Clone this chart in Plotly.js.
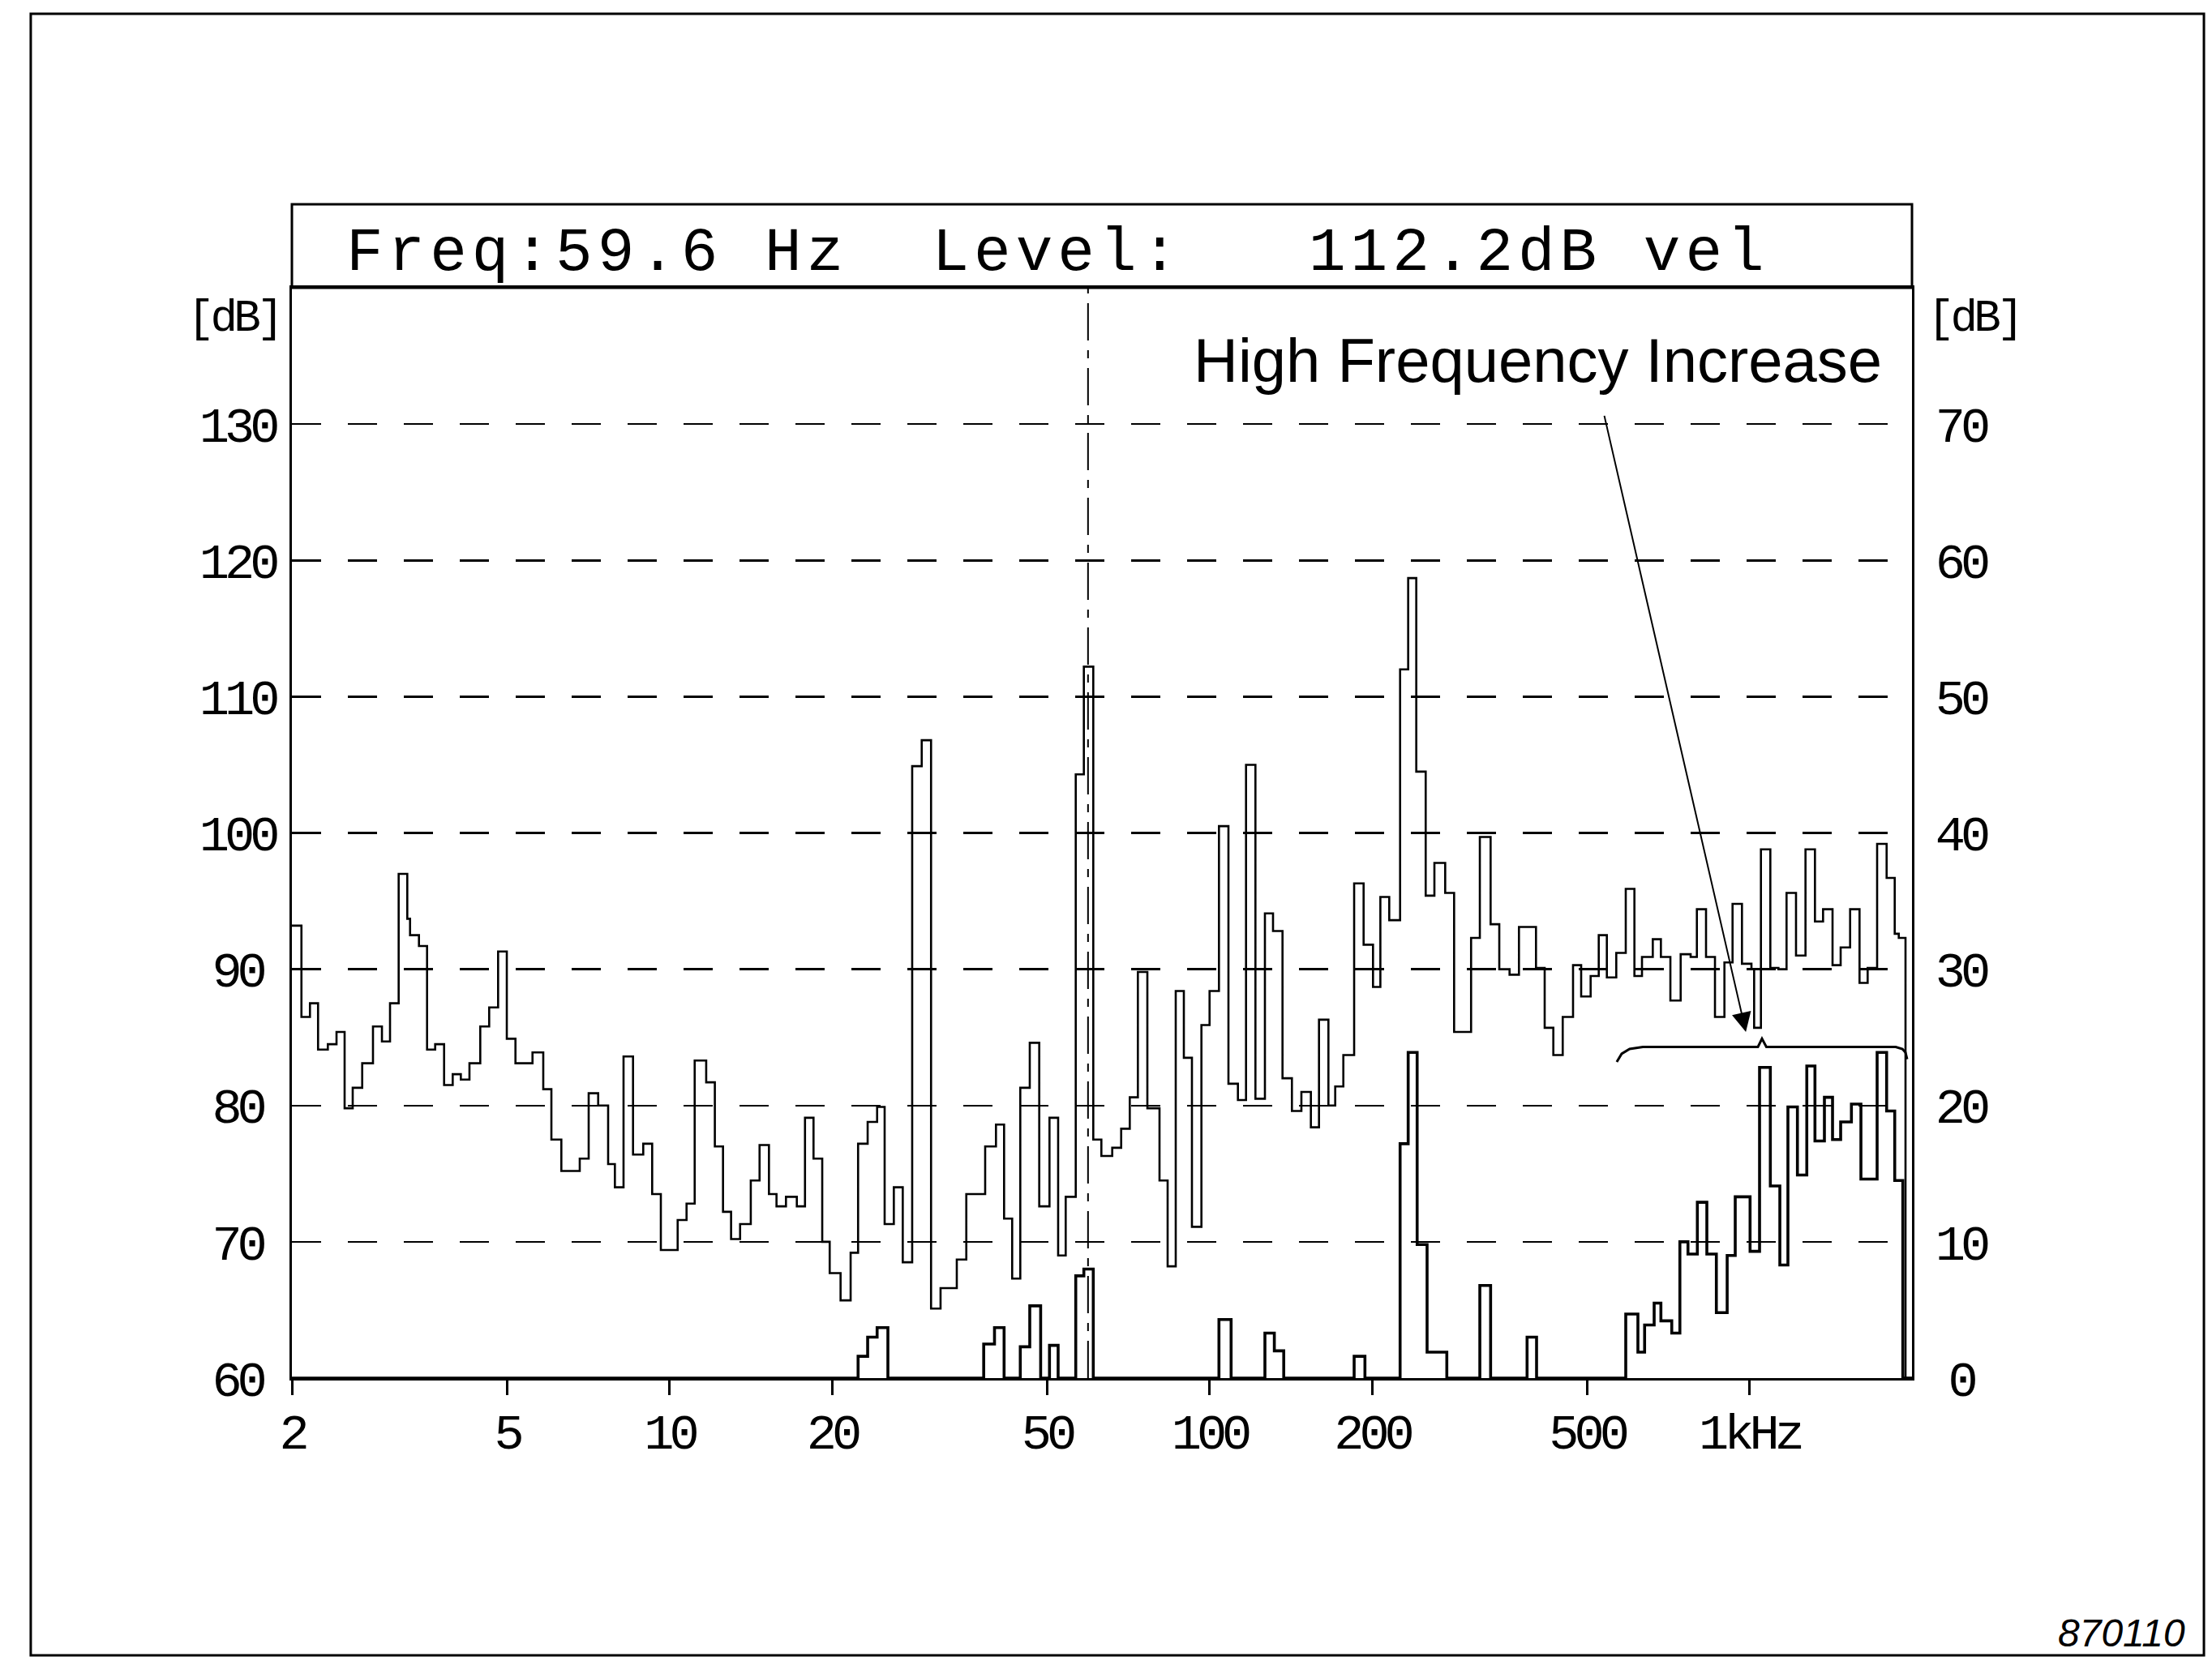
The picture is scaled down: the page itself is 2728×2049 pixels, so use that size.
<!DOCTYPE html>
<html>
<head>
<meta charset="utf-8">
<script src="https://cdn.plot.ly/plotly-3.0.1.min.js"></script>
<style>
html, body { margin: 0; padding: 0; background: #ffffff; }
#chart { width: 2728px; height: 2049px; }
.ytick text, .y2tick text { text-anchor: middle !important; letter-spacing: -6px; }
.xtick text { letter-spacing: -6px; }
.annotation[data-index="0"] text { letter-spacing: 6px; }
.annotation[data-index="1"] text, .annotation[data-index="2"] text { letter-spacing: -5px; }
</style>
</head>
<body>
<div id="chart"></div>
<script>
// Upper spectrum: left edge frequency of each band [Hz] and level [dB] (left axis)
const freqUpper = [2.0, 2.083, 2.16, 2.236, 2.331, 2.419, 2.504, 2.592, 2.699, 2.826,
  2.936, 3.039, 3.153, 3.271, 3.31, 3.438, 3.559, 3.684, 3.827, 3.97,
  4.11, 4.264, 4.465, 4.638, 4.818, 5.0, 5.188, 5.579, 5.841, 6.047, 6.309,
  6.824, 7.089, 7.382, 7.702, 7.927, 8.225, 8.565, 8.946, 9.293, 9.643,
  10.36, 10.76, 11.14, 11.70, 12.14, 12.57, 13.01, 13.52, 14.15, 14.69,
  15.29, 15.79, 16.44, 17.22, 17.83, 18.49, 19.19, 19.81,
  20.75, 21.66, 22.36, 23.29, 24.25, 25.04, 26.04, 27.05, 28.16, 29.33,
  30.52, 31.78, 34.06, 35.47, 38.44, 40.25, 41.67, 43.13, 44.65, 46.49,
  48.41, 50.57, 52.47, 54.19, 56.56, 58.55, 60.95,
  63.09, 66.08, 68.65, 71.21, 73.71, 76.76, 80.84, 83.69, 86.63, 89.68,
  92.83, 96.66, 100.07, 104.16, 108.46, 112.93, 116.91, 121.69, 126.71, 131.17,
  136.58, 142.17, 148.03, 154.14, 159.57, 166.11, 171.0, 177.03, 185.37, 193.0, 200.9,
  207.3, 215.3, 225.5, 233.4, 241.6, 251.5, 261.0, 273.3, 283.9, 305.2,
  316.8, 331.7, 344.2, 359.6, 374.3, 402.5, 417.7, 433.4, 451.1, 471.4,
  488.0, 508.1, 526.0, 544.5, 566.8, 590.2, 612.4, 632.5,
  662.3, 685.6, 713.9, 745.9, 778.3, 799.3, 831.1, 863.4, 898.9, 930.6,
  968.7, 1008.7, 1020.3, 1050.3, 1093.3, 1131.8, 1171.5, 1219.8, 1270.1, 1322.4,
  1368.9, 1425.3, 1475.5, 1536.3, 1599.2, 1655.5, 1723.8, 1795.0, 1858.1, 1890.5,
  1945.5, 2000];
const levelUpper = [93.2, 86.5, 87.5, 84.1, 84.5, 85.4, 79.8, 81.3, 83.1, 85.8,
  84.7, 87.5, 97.0, 93.7, 92.5, 91.7, 84.1, 84.5, 81.5, 82.3,
  81.9, 83.1, 85.8, 87.2, 91.3, 84.9, 83.1, 83.9, 81.2, 77.5, 75.2,
  76.1, 80.9, 80.0, 75.7, 74.0, 83.6, 76.4, 77.2, 73.5, 69.4,
  71.6, 72.8, 83.3, 81.7, 77.0, 72.2, 70.2, 71.3, 74.5, 77.1,
  73.5, 72.6, 73.3, 72.6, 79.1, 76.1, 70.0, 67.7,
  65.7, 69.2, 77.2, 78.8, 79.9, 71.3, 74.0, 68.5, 104.9, 106.8,
  65.1, 66.6, 68.7, 73.5, 77.0, 78.6, 71.7, 67.3, 81.3, 84.6,
  72.6, 79.1, 69.0, 73.3, 104.3, 112.2, 77.5,
  76.3, 76.9, 78.3, 80.6, 89.8, 79.8, 74.5, 68.2, 88.4, 83.5,
  71.1, 85.9, 88.4, 100.5, 81.6, 80.4, 105.0, 80.5, 94.1, 92.8,
  82.0, 79.6, 81.0, 78.4, 86.3, 80.0, 81.4, 83.7, 96.3, 91.8, 88.7,
  95.3, 93.6, 112.0, 118.7, 104.5, 95.4, 97.8, 95.6, 85.4, 92.3,
  99.7, 93.3, 90.0, 89.6, 93.1, 90.1, 85.7, 83.7, 86.5, 90.3,
  88.0, 89.5, 92.5, 89.4, 91.2, 95.9, 89.5, 90.9,
  92.2, 90.9, 87.7, 91.1, 90.9, 94.4, 90.9, 86.5, 90.5, 94.8,
  90.4, 90.0, 85.7, 98.8, 90.1, 90.0, 95.6, 91.0, 98.8, 93.5,
  94.4, 90.3, 91.6, 94.4, 89.0, 90.1, 99.2, 96.7, 92.6, 92.3,
  60.0, 60.0];

// Lower trace: left edge frequency [Hz] and level [dB] (right axis)
const freqLower = [2, 22.36, 23.29, 24.25, 25.39, 38.2, 40.0, 41.67, 44.65, 46.49,
  48.7, 50.57, 52.47, 56.56, 58.55, 60.95, 104.16, 109.7, 126.71, 131.9,
  137.3, 185.37, 194.1, 225.5, 233.4, 242.5, 253.0, 275.2, 316.8, 331.7,
  387.5, 403.5, 590.2, 621.6, 639.6, 666.2, 685.6, 718.1, 743.4, 769.5,
  800.9, 834.0, 868.5, 909.5, 941.3, 1002.8, 1044.2, 1093.3, 1138.5, 1178.4,
  1227.1, 1277.2, 1322.4, 1376.8, 1425.3, 1475.5, 1544.8, 1608.7, 1723.8, 1795.0,
  1858.1, 1923.4, 2000];
const levelLower = [0, 1.6, 3.0, 3.7, 0, 2.5, 3.7, 0, 2.3, 5.3,
  0, 2.4, 0, 7.5, 8.0, 0, 4.3, 0, 3.3, 2.0,
  0, 1.6, 0, 17.2, 23.9, 9.8, 1.9, 0, 6.8, 0,
  3.0, 0, 4.7, 1.9, 3.9, 5.5, 4.2, 3.3, 10.0, 9.1,
  12.9, 9.1, 4.8, 9.0, 13.3, 9.3, 22.8, 14.1, 8.3, 19.9,
  14.9, 22.9, 17.4, 20.6, 17.5, 18.8, 20.1, 14.6, 23.9, 19.6,
  14.5, 0, 0];

const xTickVals = [2, 5, 10, 20, 50, 100, 200, 500, 1000];
const xTickText = ['2', '5', '10', '20', '50', '100', '200', '500', '1kHz'];
const yLeftTicks = [60, 70, 80, 90, 100, 110, 120, 130];
const yRightTicks = [0, 10, 20, 30, 40, 50, 60, 70];
const xRange = [2, 2000];
const yLeftRange = [60, 140];
const yRightRange = [0, 80];

const cursorFreq = 59.6;
const cursorLevel = 112.2;
const headerText = 'Freq:' + cursorFreq.toFixed(1) + ' Hz\u00a0\u00a0Level:\u00a0\u00a0\u00a0' + cursorLevel.toFixed(1) + 'dB vel';

// brace over the high-frequency region and its arrow
const braceFreq = [568, 580, 600, 635, 1037, 1055, 1075, 1866, 1920, 1945, 1959];
const braceLevel = [83.2, 83.8, 84.15, 84.3, 84.3, 84.9, 84.3, 84.3, 84.15, 83.9, 83.4];
const arrowTip = [985, 85.4];
const arrowTail = [538, 130.7];

const black = '#000000';
const monoFont = 'Liberation Mono, DejaVu Sans Mono, monospace';

const bracePath = braceFreq.map((f, i) => (i === 0 ? 'M' : 'L') + f + ',' + braceLevel[i]).join(' ');

const traces = [
  {
    x: freqUpper, y: levelUpper, type: 'scatter', mode: 'lines',
    line: { shape: 'hv', color: black, width: 2.6 },
    xaxis: 'x', yaxis: 'y', hoverinfo: 'skip', showlegend: false
  },
  {
    x: freqLower, y: levelLower, type: 'scatter', mode: 'lines',
    line: { shape: 'hv', color: black, width: 3.6 },
    xaxis: 'x', yaxis: 'y2', hoverinfo: 'skip', showlegend: false
  }
];

const layout = {
  width: 2728, height: 2049,
  margin: { l: 360, r: 370, t: 355, b: 349, pad: 0 },
  paper_bgcolor: '#ffffff', plot_bgcolor: '#ffffff',
  showlegend: false,
  xaxis: {
    type: 'log', range: [Math.log10(xRange[0]), Math.log10(xRange[1])],
    tickmode: 'array', tickvals: xTickVals, ticktext: xTickText,
    showgrid: false, zeroline: false,
    showline: true, linecolor: black, linewidth: 3, mirror: true,
    ticks: 'outside', ticklen: 18, tickwidth: 3, tickcolor: black,
    ticklabelstandoff: -8,
    tickfont: { family: monoFont, size: 62, color: black }
  },
  yaxis: {
    range: yLeftRange, tickmode: 'array', tickvals: yLeftTicks,
    ticktext: yLeftTicks.map(String),
    showgrid: true, gridcolor: black, gridwidth: 2.5, griddash: '36px,33px',
    zeroline: false, showline: true, linecolor: black, linewidth: 3, mirror: true,
    ticks: '', ticklabelstandoff: 52,
    tickfont: { family: monoFont, size: 62, color: black }
  },
  yaxis2: {
    range: yRightRange, overlaying: 'y', side: 'right', tickmode: 'array',
    tickvals: yRightTicks, ticktext: yRightTicks.map(String),
    showgrid: false, zeroline: false, showline: false, ticks: '',
    ticklabelstandoff: 59,
    tickfont: { family: monoFont, size: 62, color: black }
  },
  shapes: [
    // outer frame
    { type: 'rect', xref: 'paper', yref: 'paper', x0: -0.1612, x1: 1.1802, y0: -0.2543, y1: 1.2513,
      line: { color: black, width: 3 }, fillcolor: 'rgba(0,0,0,0)', layer: 'above' },
    // header box
    { type: 'rect', xref: 'paper', yref: 'paper', x0: 0, x1: 1, y0: 1, y1: 1.0766,
      line: { color: black, width: 3 }, fillcolor: 'rgba(0,0,0,0)', layer: 'above' },
    // cursor line
    { type: 'line', xref: 'x', yref: 'paper', x0: cursorFreq, x1: cursorFreq, y0: 0, y1: 1,
      line: { color: black, width: 2, dash: '46px,12px,10px,12px' }, layer: 'above' },
    // brace
    { type: 'path', xref: 'x', yref: 'y', path: bracePath,
      line: { color: black, width: 3 }, layer: 'above' }
  ],
  annotations: [
    { text: headerText, xref: 'paper', yref: 'paper', x: 0.4725, y: 1.0312,
      xanchor: 'center', yanchor: 'middle', showarrow: false,
      font: { family: monoFont, size: 76, color: black } },
    { text: '[dB]', xref: 'paper', yref: 'paper', x: -0.036, y: 0.9717,
      xanchor: 'center', yanchor: 'middle', showarrow: false,
      font: { family: monoFont, size: 56, color: black } },
    { text: '[dB]', xref: 'paper', yref: 'paper', x: 1.0382, y: 0.9717,
      xanchor: 'center', yanchor: 'middle', showarrow: false,
      font: { family: monoFont, size: 56, color: black } },
    { text: 'High Frequency Increase', xref: 'paper', yref: 'paper', x: 0.9825, y: 0.9338,
      xanchor: 'right', yanchor: 'middle', showarrow: false,
      font: { family: 'Liberation Sans, Arial, sans-serif', size: 76, color: black } },
    { text: '', xref: 'x', yref: 'y', x: Math.log10(arrowTip[0]), y: arrowTip[1],
      axref: 'x', ayref: 'y', ax: Math.log10(arrowTail[0]), ay: arrowTail[1],
      showarrow: true, arrowhead: 2, arrowsize: 2.4, arrowwidth: 2, arrowcolor: black,
      standoff: 0, startstandoff: 0 },
    { text: '870110', xref: 'paper', yref: 'paper', x: 1.1697, y: -0.2342,
      xanchor: 'right', yanchor: 'middle', showarrow: false,
      font: { family: 'Liberation Sans, Arial, sans-serif', size: 48, color: black, style: 'italic' } }
  ]
};

Plotly.newPlot('chart', traces, layout, { staticPlot: true, displayModeBar: false });
</script>
</body>
</html>
